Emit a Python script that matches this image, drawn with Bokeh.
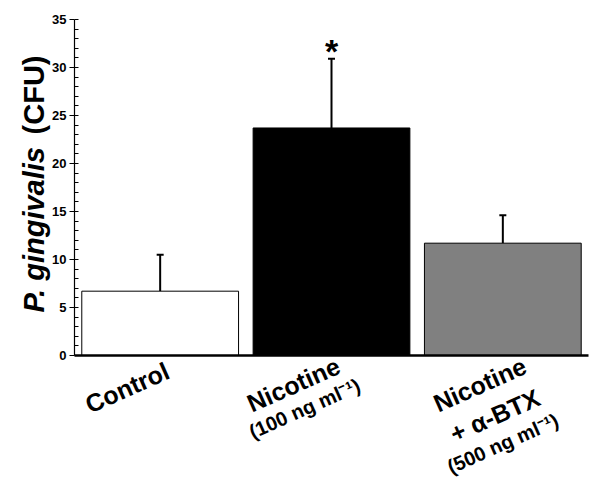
import math
from bokeh.plotting import figure
from bokeh.models import Range1d, FixedTicker, LinearAxis, Whisker, TeeHead, ColumnDataSource
from bokeh.embed import file_html
from bokeh.resources import INLINE
from bokeh.core.properties import value

# ---- data ----
categories = ["Control", "Nicotine", "Nicotine + α-BTX"]
cfu_mean = [6.7, 23.7, 11.7]
cfu_err = [3.8, 7.2, 2.9]
bar_colors = ["#ffffff", "#000000", "#808080"]
y_ticks = [0, 5, 10, 15, 20, 25, 30, 35]
label_lines = [["Control"],
               ["Nicotine", "(100 ng ml\u207b\u00b9)"],
               ["Nicotine", "+ \u03b1-BTX", "(500 ng ml\u207b\u00b9)"]]
label_sizes = [["25px"], ["25px", "20px"], ["25px", "25px", "20px"]]
# pixel offsets of each line centre from (bar centre, x-axis)
label_offsets = [[(-33, 32)],
                 [(-38, 29), (-27, 53)],
                 [(-23, 29), (-8, 60), (0, 88)]]
significance = ["", "*", ""]

# ---- layout (frame covers the whole canvas; axes are fixed inside) ----
W, H = 596, 477
AX_L, AX_R, AX_T, AX_B = 74, 588, 19, 355      # pixel extent of the axes
Y_MAX = 35
N = len(categories)
xpx = (AX_R - AX_L) / N
ypx = (AX_B - AX_T) / Y_MAX
FONT = "Liberation Sans"

x_range = Range1d(-AX_L / xpx, N + (W - AX_R) / xpx)
y_range = Range1d(-(H - AX_B) / ypx, Y_MAX + AX_T / ypx)

xs = [i + 0.5 for i in range(N)]
src = ColumnDataSource(dict(x=xs, top=cfu_mean, color=bar_colors,
                            upper=[m + e for m, e in zip(cfu_mean, cfu_err)]))

p = figure(width=W, height=H, x_range=x_range, y_range=y_range,
           output_backend="svg", toolbar_location=None,
           x_axis_location=None, y_axis_location=None,
           min_border=0)
p.outline_line_color = None
p.grid.visible = False
p.background_fill_color = "white"
p.border_fill_color = "white"

p.vbar(x="x", top="top", bottom=0, width=0.915, fill_color="color",
       line_color="black", line_width=1, source=src)

wh = Whisker(base="x", lower="top", upper="upper", source=src,
             line_color="black", line_width=2,
             upper_head=TeeHead(size=7, line_width=2, line_color="black"),
             lower_head=None)
p.add_layout(wh)

# significance star
for i, s in enumerate(significance):
    if s:
        p.text(x=[xs[i]], y=[cfu_mean[i] + cfu_err[i] + 8 / ypx], text=[s],
               text_align="center", text_baseline="alphabetic",
               text_font=value(FONT), text_font_style="bold",
               text_font_size="34px", text_color="black")

# y axis
ya = LinearAxis(fixed_location=0, bounds=(0, Y_MAX))
ya.ticker = FixedTicker(ticks=y_ticks, minor_ticks=list(range(0, Y_MAX + 1)))
ya.major_label_text_font = FONT
ya.major_label_text_font_style = "bold"
ya.major_label_text_font_size = "13px"
ya.major_label_text_color = "black"
ya.major_tick_out = 5
ya.major_tick_in = 0
ya.minor_tick_in = 4
ya.minor_tick_out = 0
ya.axis_line_width = 1.2
ya.major_label_standoff = 3
p.add_layout(ya, "left")

# x axis: only the baseline
xa = LinearAxis(fixed_location=0, bounds=(0, N))
xa.ticker = FixedTicker(ticks=[])
xa.major_tick_line_color = None
xa.minor_tick_line_color = None
xa.major_label_text_font_size = "0px"
xa.axis_line_width = 2.5
p.add_layout(xa, "below")

# category labels (rotated)
ang = math.radians(24)
for i, lines in enumerate(label_lines):
    for j, txt in enumerate(lines):
        ox, oy = label_offsets[i][j]
        p.text(x=[xs[i] + ox / xpx], y=[-oy / ypx], text=[txt], angle=ang,
               text_align="center", text_baseline="middle",
               text_font=value(FONT), text_font_style="bold",
               text_font_size=label_sizes[i][j], text_color="black")

# y-axis title (mixed italic / upright)
tx = -(AX_L - 33) / xpx
p.text(x=[tx], y=[(AX_B - 312) / ypx], text=["P. gingivalis"], angle=math.pi / 2,
       text_align="left", text_baseline="alphabetic",
       text_font=value(FONT), text_font_style="bold italic",
       text_font_size="29px", text_color="black")
p.text(x=[tx], y=[(AX_B - 55) / ypx], text=["(CFU)"], angle=math.pi / 2,
       text_align="right", text_baseline="alphabetic",
       text_font=value(FONT), text_font_style="bold",
       text_font_size="29px", text_color="black")

open("out.html", "w").write(file_html(p, INLINE))
